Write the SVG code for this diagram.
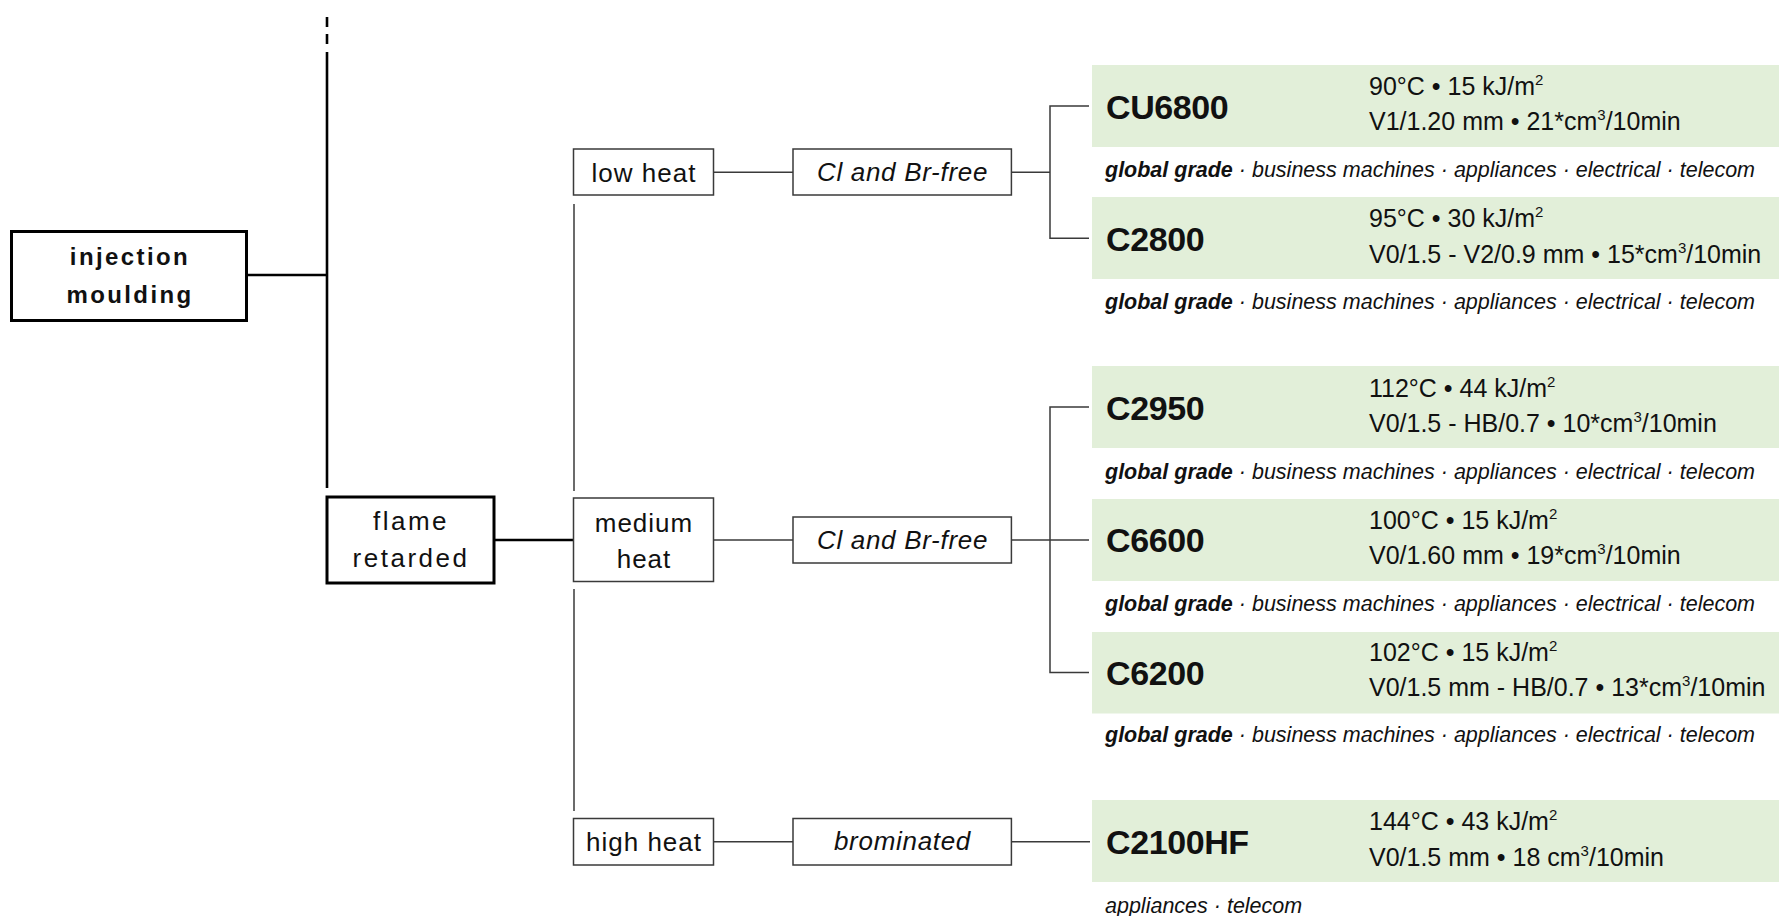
<svg xmlns="http://www.w3.org/2000/svg" width="1788" height="916" viewBox="0 0 1788 916">
  <style>
    text { font-family: "Liberation Sans", Arial, sans-serif; fill: #111; }
    .thick { stroke: #000; stroke-width: 2.6; fill: none; }
    .thin { stroke: #3a3a3a; stroke-width: 1.5; fill: none; }
    .boxThick { fill: #fff; stroke: #000; stroke-width: 3; }
    .boxThin { fill: #fff; stroke: #3a3a3a; stroke-width: 1.5; }
    .green { fill: #e2efd9; }
    .root { font-size: 24px; font-weight: bold; letter-spacing: 2.4px; text-anchor: middle; }
    .lvl1 { font-size: 26px; letter-spacing: 2.5px; text-anchor: middle; }
    .lvl2 { font-size: 26px; letter-spacing: 1px; text-anchor: middle; }
    .lvl3 { font-size: 26px; font-style: italic; letter-spacing: 0.7px; text-anchor: middle; }
    .name { font-size: 34px; font-weight: bold; letter-spacing: -0.4px; }
    .spec { font-size: 25px; }
    .sup { font-size: 15px; }
    .cap { font-size: 21.5px; font-style: italic; }
    .capb { font-weight: bold; }
  </style>

  <g id="connectors">
    <!-- trunk from top -->
    <line class="thick" x1="327" y1="17" x2="327" y2="27" stroke-width="2"/>
    <line class="thick" x1="327" y1="34" x2="327" y2="44" stroke-width="2"/>
    <line class="thick" x1="327" y1="52" x2="327" y2="488" stroke-width="2"/>
    <line class="thick" x1="246" y1="275" x2="327" y2="275"/>
    <!-- flame retarded to medium heat -->
    <line class="thick" x1="494" y1="540" x2="573" y2="540"/>
    <!-- heat level vertical -->
    <line class="thin" x1="574" y1="204" x2="574" y2="491"/>
    <line class="thin" x1="574" y1="589" x2="574" y2="811"/>
    <!-- heat to chemistry -->
    <line class="thin" x1="713.6" y1="172.3" x2="793" y2="172.3"/>
    <line class="thin" x1="713.6" y1="540" x2="793" y2="540"/>
    <line class="thin" x1="713.6" y1="841.7" x2="793" y2="841.7"/>
    <!-- low bracket -->
    <line class="thin" x1="1011.4" y1="172.3" x2="1050" y2="172.3"/>
    <path class="thin" d="M1089 106 H1050 V238.3 H1089"/>
    <!-- medium bracket -->
    <line class="thin" x1="1011.4" y1="540" x2="1089" y2="540"/>
    <path class="thin" d="M1089 407 H1050 V672.5 H1089"/>
    <!-- high -->
    <line class="thin" x1="1011.4" y1="841.7" x2="1090" y2="841.7"/>
  </g>

  <g id="injection-moulding">
    <rect class="boxThick" x="11.5" y="231.5" width="235" height="89"/>
    <text class="root" x="130" y="265">injection</text>
    <text class="root" x="130" y="303">moulding</text>
  </g>

  <g id="flame-retarded">
    <rect class="boxThick" x="327" y="497" width="167" height="86" stroke-width="2.6"/>
    <text class="lvl1" x="411" y="530">flame</text>
    <text class="lvl1" x="411" y="566.5">retarded</text>
  </g>

  <g id="low-heat">
    <rect class="boxThin" x="573.5" y="149" width="140" height="46"/>
    <text class="lvl2" x="644" y="181.5">low heat</text>
  </g>
  <g id="medium-heat">
    <rect class="boxThin" x="573.5" y="498" width="140" height="83.5"/>
    <text class="lvl2" x="644" y="531.5">medium</text>
    <text class="lvl2" x="644" y="568">heat</text>
  </g>
  <g id="high-heat">
    <rect class="boxThin" x="573.5" y="818.5" width="140" height="46.5"/>
    <text class="lvl2" x="644" y="851">high heat</text>
  </g>

  <g id="cl-br-free-low">
    <rect class="boxThin" x="793" y="149" width="218.4" height="46"/>
    <text class="lvl3" x="902.5" y="180.5">Cl and Br-free</text>
  </g>
  <g id="cl-br-free-medium">
    <rect class="boxThin" x="793" y="517" width="218.4" height="46"/>
    <text class="lvl3" x="902.5" y="548.5">Cl and Br-free</text>
  </g>
  <g id="brominated">
    <rect class="boxThin" x="793" y="818.5" width="218.4" height="46.5"/>
    <text class="lvl3" x="902.5" y="850">brominated</text>
  </g>

  <g id="grade-CU6800">
    <rect class="green" x="1092" y="65" width="687" height="82"/>
    <text class="name" x="1106" y="118.5">CU6800</text>
    <text class="spec" x="1369" y="94.5">90°C • 15 kJ/m<tspan class="sup" dy="-10">2</tspan></text>
    <text class="spec" x="1369" y="130">V1/1.20 mm • 21*cm<tspan class="sup" dy="-10">3</tspan><tspan dy="10">/10min</tspan></text>
    <text class="cap" x="1105" y="177"><tspan class="capb">global grade</tspan> · business machines · appliances · electrical · telecom</text>
  </g>

  <g id="grade-C2800">
    <rect class="green" x="1092" y="197" width="687" height="82"/>
    <text class="name" x="1106" y="250.5">C2800</text>
    <text class="spec" x="1369" y="226.5">95°C • 30 kJ/m<tspan class="sup" dy="-10">2</tspan></text>
    <text class="spec" x="1369" y="262.5">V0/1.5 - V2/0.9 mm • 15*cm<tspan class="sup" dy="-10">3</tspan><tspan dy="10">/10min</tspan></text>
    <text class="cap" x="1105" y="309"><tspan class="capb">global grade</tspan> · business machines · appliances · electrical · telecom</text>
  </g>

  <g id="grade-C2950">
    <rect class="green" x="1092" y="366" width="687" height="82"/>
    <text class="name" x="1106" y="420">C2950</text>
    <text class="spec" x="1369" y="396.5">112°C • 44 kJ/m<tspan class="sup" dy="-10">2</tspan></text>
    <text class="spec" x="1369" y="432">V0/1.5 - HB/0.7 • 10*cm<tspan class="sup" dy="-10">3</tspan><tspan dy="10">/10min</tspan></text>
    <text class="cap" x="1105" y="478.5"><tspan class="capb">global grade</tspan> · business machines · appliances · electrical · telecom</text>
  </g>

  <g id="grade-C6600">
    <rect class="green" x="1092" y="499" width="687" height="82"/>
    <text class="name" x="1106" y="552">C6600</text>
    <text class="spec" x="1369" y="528.5">100°C • 15 kJ/m<tspan class="sup" dy="-10">2</tspan></text>
    <text class="spec" x="1369" y="564">V0/1.60 mm • 19*cm<tspan class="sup" dy="-10">3</tspan><tspan dy="10">/10min</tspan></text>
    <text class="cap" x="1105" y="611"><tspan class="capb">global grade</tspan> · business machines · appliances · electrical · telecom</text>
  </g>

  <g id="grade-C6200">
    <rect class="green" x="1092" y="632" width="687" height="81.5"/>
    <text class="name" x="1106" y="684.5">C6200</text>
    <text class="spec" x="1369" y="660.5">102°C • 15 kJ/m<tspan class="sup" dy="-10">2</tspan></text>
    <text class="spec" x="1369" y="696">V0/1.5 mm - HB/0.7 • 13*cm<tspan class="sup" dy="-10">3</tspan><tspan dy="10">/10min</tspan></text>
    <text class="cap" x="1105" y="742"><tspan class="capb">global grade</tspan> · business machines · appliances · electrical · telecom</text>
  </g>

  <g id="grade-C2100HF">
    <rect class="green" x="1092" y="800" width="687" height="82"/>
    <text class="name" x="1106" y="853.5">C2100HF</text>
    <text class="spec" x="1369" y="830">144°C • 43 kJ/m<tspan class="sup" dy="-10">2</tspan></text>
    <text class="spec" x="1369" y="865.5">V0/1.5 mm • 18 cm<tspan class="sup" dy="-10">3</tspan><tspan dy="10">/10min</tspan></text>
    <text class="cap" x="1105" y="912.5">appliances · telecom</text>
  </g>
</svg>
